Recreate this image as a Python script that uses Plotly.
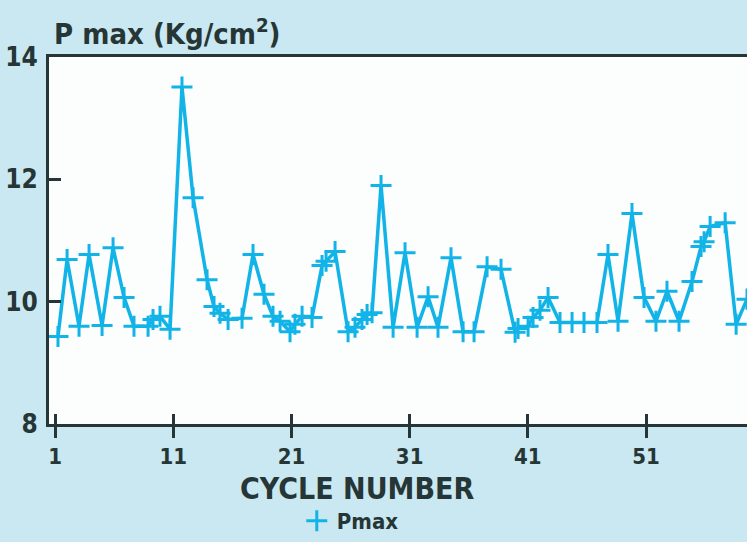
import plotly.graph_objects as go

# Data (cycle position, Pmax in Kg/cm2)
cycle = [1.25, 2.02, 3.03, 3.88, 4.98, 5.91, 6.84, 7.68, 8.87, 9.29, 9.88, 10.73,
         11.74, 12.68, 13.86, 14.45, 14.96, 15.64, 16.82, 17.75, 18.68, 19.44, 20.04,
         20.88, 21.30, 21.90, 22.74, 23.59, 23.93, 24.69, 25.79, 26.38, 26.97, 27.40,
         27.82, 28.58, 29.60, 30.61, 31.63, 32.56, 33.40, 34.50, 35.52, 36.45, 37.55,
         38.73, 39.92, 40.17, 41.02, 41.44, 42.03, 42.71, 43.72, 44.74, 45.75, 46.85,
         47.78, 48.63, 49.81, 50.83, 51.84, 52.77, 53.79, 54.89, 55.65, 55.91, 56.42,
         57.69, 58.62, 59.54, 60.39]
pmax = [9.43, 10.69, 9.60, 10.77, 9.61, 10.88, 10.07, 9.60, 9.60, 9.71, 9.76, 9.55,
        13.51, 11.70, 10.36, 9.92, 9.81, 9.71, 9.73, 10.77, 10.12, 9.76, 9.68,
        9.51, 9.63, 9.76, 9.74, 10.59, 10.66, 10.82, 9.51, 9.58, 9.71, 9.79,
        9.82, 11.90, 9.58, 10.80, 9.58, 10.08, 9.58, 10.72, 9.51, 9.51, 10.57,
        10.53, 9.50, 9.56, 9.60, 9.74, 9.86, 10.07, 9.66, 9.66, 9.66, 9.66,
        10.77, 9.68, 11.44, 10.07, 9.68, 10.17, 9.68, 10.33, 10.90, 10.98, 11.23,
        11.29, 9.63, 10.04, 10.20]
x_ticks = [1, 11, 21, 31, 41, 51]
y_ticks = [8, 10, 12, 14]

LINE = "#12b4e8"
INK = "#263636"
FONT = "DejaVu Sans Condensed"

fig = go.Figure()
fig.add_trace(go.Scatter(
    x=cycle, y=pmax, mode="lines+markers", showlegend=False,
    line=dict(color=LINE, width=3.5),
    marker=dict(symbol="cross-thin", size=15, line=dict(color=LINE, width=3)),
))
fig.add_trace(go.Scatter(
    x=[None], y=[None], mode="markers", name="Pmax",
    marker=dict(symbol="cross-thin", size=15, line=dict(color=LINE, width=3)),
))
# overlay axis to give the x ticks an inner half
fig.add_trace(go.Scatter(x=[None], y=[None], xaxis="x2", showlegend=False,
                         mode="markers"))

xr = [0.49, 59.54]
fig.update_layout(
    width=747, height=542,
    margin=dict(l=49, r=0, t=57, b=117),
    paper_bgcolor="#c9e8f1",
    plot_bgcolor="#fcfdfd",
    font=dict(family=FONT, color=INK, size=22, weight="bold"),
    xaxis=dict(range=xr, tickvals=x_ticks, ticktext=[str(v) for v in x_ticks],
               ticks="outside", ticklen=11, tickwidth=3, tickcolor=INK,
               showline=True, linewidth=3, linecolor=INK, mirror=True,
               showgrid=False, zeroline=False,
               tickfont=dict(size=22, family=FONT, color=INK, weight="bold")),
    xaxis2=dict(range=xr, overlaying="x", tickvals=x_ticks, showticklabels=False,
                ticks="inside", ticklen=10, tickwidth=3, tickcolor=INK,
                showgrid=False, zeroline=False, side="bottom", anchor="y"),
    yaxis=dict(range=[8, 14], tickvals=y_ticks, ticktext=[str(v) for v in y_ticks],
               ticks="inside", ticklen=12, tickwidth=3, tickcolor=INK,
               showline=True, linewidth=3, linecolor=INK, mirror=False,
               showgrid=False, zeroline=False, ticklabelstandoff=3,
               tickfont=dict(size=26, family=FONT, color=INK, weight="bold")),
    legend=dict(x=0.355, y=-0.266, xanchor="left", yanchor="middle",
                bgcolor="rgba(0,0,0,0)", font=dict(size=22, family=FONT, color=INK, weight="bold")),
    annotations=[
        dict(text="P max (Kg/cm<sup>2</sup>)", xref="paper", yref="paper",
             x=0.004, y=1.068, xanchor="left", yanchor="middle", showarrow=False,
             font=dict(size=29, family=FONT, color=INK, weight="bold")),
        dict(text="CYCLE NUMBER", xref="paper", yref="paper",
             x=0.441, y=-0.177, xanchor="center", yanchor="middle", showarrow=False,
             font=dict(size=30, family=FONT, color=INK, weight="bold")),
    ],
)
fig.write_html("out.html")
